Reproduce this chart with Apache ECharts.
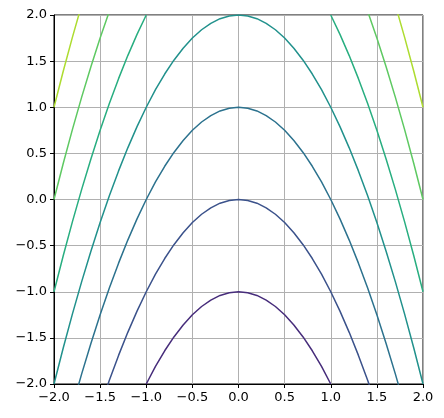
<!DOCTYPE html>
<html>
<head>
<meta charset="utf-8">
<script src="https://cdn.jsdelivr.net/npm/echarts@6/dist/echarts.min.js"></script>
<style>
  html, body { margin: 0; padding: 0; background: #fff; }
  #chart { width: 444px; height: 418px; }
</style>
</head>
<body>
<div id="chart"></div>
<script>
// shared x positions of the contour points
const xs = [-2.0, -1.9, -1.8, -1.7, -1.6, -1.5, -1.4, -1.3, -1.2, -1.1, -1.0,
  -0.9, -0.8, -0.7, -0.6, -0.5, -0.4, -0.3, -0.2, -0.1, 0.0,
  0.1, 0.2, 0.3, 0.4, 0.5, 0.6, 0.7, 0.8, 0.9, 1.0,
  1.1, 1.2, 1.3, 1.4, 1.5, 1.6, 1.7, 1.8, 1.9, 2.0]

// contour levels and their y values at xs ('-' = no line there)
const levels = [-1, 0, 1, 2, 3, 4, 5]
const levelM1 = ['-', '-', '-', '-', '-', '-', '-', '-', '-', '-', -2,
  -1.81, -1.64, -1.49, -1.36, -1.25, -1.16, -1.09, -1.04, -1.01, -1,
  -1.01, -1.04, -1.09, -1.16, -1.25, -1.36, -1.49, -1.64, -1.81, -2,
  '-', '-', '-', '-', '-', '-', '-', '-', '-', '-']
const level0 = ['-', '-', '-', '-', '-', -2.25, -1.96, -1.69, -1.44, -1.21, -1,
  -0.81, -0.64, -0.49, -0.36, -0.25, -0.16, -0.09, -0.04, -0.01, 0,
  -0.01, -0.04, -0.09, -0.16, -0.25, -0.36, -0.49, -0.64, -0.81, -1,
  -1.21, -1.44, -1.69, -1.96, -2.25, '-', '-', '-', '-', '-']
const level1 = ['-', '-', -2.24, -1.89, -1.56, -1.25, -0.96, -0.69, -0.44, -0.21, 0,
  0.19, 0.36, 0.51, 0.64, 0.75, 0.84, 0.91, 0.96, 0.99, 1,
  0.99, 0.96, 0.91, 0.84, 0.75, 0.64, 0.51, 0.36, 0.19, 0,
  -0.21, -0.44, -0.69, -0.96, -1.25, -1.56, -1.89, -2.24, '-', '-']
const level2 = [-2, -1.61, -1.24, -0.89, -0.56, -0.25, 0.04, 0.31, 0.56, 0.79, 1,
  1.19, 1.36, 1.51, 1.64, 1.75, 1.84, 1.91, 1.96, 1.99, 2,
  1.99, 1.96, 1.91, 1.84, 1.75, 1.64, 1.51, 1.36, 1.19, 1,
  0.79, 0.56, 0.31, 0.04, -0.25, -0.56, -0.89, -1.24, -1.61, -2]
const level3 = [-1, -0.61, -0.24, 0.11, 0.44, 0.75, 1.04, 1.31, 1.56, 1.79, 2,
  '-', '-', '-', '-', '-', '-', '-', '-', '-', '-',
  '-', '-', '-', '-', '-', '-', '-', '-', '-', 2,
  1.79, 1.56, 1.31, 1.04, 0.75, 0.44, 0.11, -0.24, -0.61, -1]
const level4 = [0, 0.39, 0.76, 1.11, 1.44, 1.75, 2.04, '-', '-', '-', '-',
  '-', '-', '-', '-', '-', '-', '-', '-', '-', '-',
  '-', '-', '-', '-', '-', '-', '-', '-', '-', '-',
  '-', '-', '-', 2.04, 1.75, 1.44, 1.11, 0.76, 0.39, 0]
const level5 = [1, 1.39, 1.76, 2.11, '-', '-', '-', '-', '-', '-', '-',
  '-', '-', '-', '-', '-', '-', '-', '-', '-', '-',
  '-', '-', '-', '-', '-', '-', '-', '-', '-', '-',
  '-', '-', '-', '-', '-', '-', 2.11, 1.76, 1.39, 1]
const levelYs = [levelM1, level0, level1, level2, level3, level4, level5]

// viridis colours for levels -1..5 (norm over -2..6)
const colors = ['#472d7b', '#3b528b', '#2c728e', '#21918c', '#28ae80', '#5ec962', '#addc30']

const tickFmt = v => v.toFixed(1).replace('-', '\u2212')

const chart = echarts.init(document.getElementById('chart'))
const axisCommon = {
    type: 'value',
    min: -2,
    max: 2,
    interval: 0.5,
    axisLine: { show: true, onZero: false, lineStyle: { color: '#000', width: 1 } },
    axisTick: { show: true, inside: false, length: 4, lineStyle: { color: '#000', width: 1 } },
    axisLabel: { color: '#000', fontSize: 13, fontFamily: 'DejaVu Sans', margin: 7, formatter: tickFmt },
    splitLine: { show: true, lineStyle: { color: '#b0b0b0', width: 1 } }
}
const option = {
    animation: false,
    backgroundColor: '#fff',
    grid: { left: 54, right: 21, top: 15, bottom: 34, show: true, borderColor: '#000', borderWidth: 1 },
    xAxis: axisCommon,
    yAxis: axisCommon,
    series: levels.map((lv, i) => ({
        name: String(lv),
        type: 'line',
        data: xs.map((x, j) => [x, levelYs[i][j]]),
        showSymbol: false,
        symbol: 'none',
        connectNulls: false,
        clip: true,
        lineStyle: { color: colors[i], width: 1.5 },
        z: 3
    }))
}
chart.setOption(option)
</script>
</body>
</html>
